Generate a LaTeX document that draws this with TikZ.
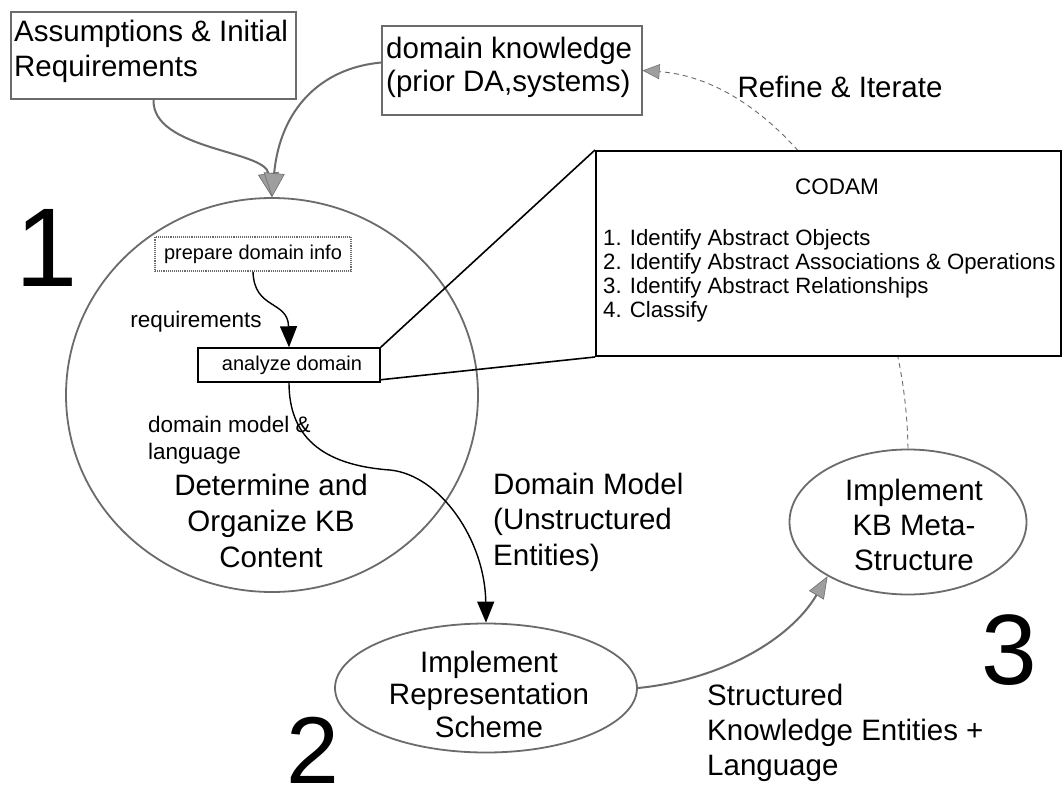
\documentclass[tikz,border=0pt]{standalone}
\usepackage{fontspec}
\setmainfont{Liberation Sans}
\usetikzlibrary{arrows.meta,shapes.geometric}
\definecolor{halftone}{rgb}{0.42,0.42,0.42}
\definecolor{headgray}{rgb}{0.62,0.62,0.62}
\tikzset{
  fs/.style 2 args={font=\fontsize{#1}{#2}\selectfont},
  oval/.style={ellipse, draw=halftone, line width=1.8pt, inner sep=0pt},
  graybox/.style={rectangle, draw=halftone, line width=1.2pt, inner sep=0pt},
  dotbox/.style={rectangle, draw=halftone, densely dotted, line width=1.1pt, inner sep=0pt},
  blackbox/.style={rectangle, draw=black, line width=1.5pt, inner sep=0pt},
  txt/.style={inner sep=0pt},
  grayarrow/.style={draw=halftone, line width=2pt, -{Triangle[length=24pt,width=21pt,fill=headgray,color=halftone,line width=0.6pt]}},
  grayarrowb/.style={draw=halftone, line width=2pt, -{Triangle[length=22pt,width=17pt,fill=headgray,color=halftone,line width=0.6pt]}},
  blackarrow/.style={draw=black, line width=1.4pt, -{Triangle[length=21pt,width=17pt]}},
  dashline/.style={draw=halftone, line width=0.9pt, dash pattern=on 5pt off 4pt, -{Triangle[length=17pt,width=15pt,fill=headgray,color=halftone,line width=0.5pt]}},
  codamline/.style={draw=black, line width=1.6pt}
}
\begin{document}
\begin{tikzpicture}[x=1pt,y=-1pt]
\useasboundingbox[fill=white] (0,0) rectangle (1063,792);

% big circle and ellipses
\node[oval, minimum width=412pt, minimum height=394pt] (c1) at (272,395) {};
\node[oval, minimum width=302pt, minimum height=129pt] (e2) at (486,688) {};
\node[oval, minimum width=237pt, minimum height=145pt] (e3) at (908,522) {};

% top boxes
\node[graybox, minimum width=285pt, minimum height=87pt] (ass) at (153.5,55.5) {};
\node[txt, fs={29.5}{35}, align=left, anchor=west] (asst) at (14,51) {Assumptions \& Initial\\Requirements};
\node[graybox, minimum width=260pt, minimum height=89pt] (dk) at (512,70.5) {};
\node[txt, fs={29.5}{33}, align=left, anchor=west] (dkt) at (386,67) {domain knowledge\\(prior DA,systems)};
\node[txt, fs={29.5}{34}] (refine) at (840,87) {Refine \& Iterate};

% big numbers
\node[txt, fs={112}{130}] (n1) at (47,248) {1};
\node[txt, fs={95}{115}] (n2) at (313,750) {2};
\node[txt, fs={100}{120}] (n3) at (1009,650) {3};

% inside circle
\node[dotbox, minimum width=196pt, minimum height=34pt, fs={20}{24}] (prep) at (253,254) {prepare domain info};
\node[blackbox, minimum width=182pt, minimum height=34pt, fs={20}{24}] (an) at (289,365) {\hspace*{6pt}analyze domain};
\node[txt, fs={22.5}{26}] (req) at (196,322) {requirements};
\node[txt, fs={22.5}{27}, align=left, anchor=west] (dml) at (148,440) {domain model \&\\language};
\node[txt, fs={29.5}{36}, align=center] (det) at (271,521) {Determine and\\Organize KB\\Content};

% ellipse texts
\node[txt, fs={29.5}{32.5}, align=center] (e2t) at (489,694) {Implement\\Representation\\Scheme};
\node[txt, fs={29.5}{35}, align=center] (e3t) at (914,525) {Implement\\KB Meta-\\Structure};

% edge labels
\node[txt, fs={29.5}{35.5}, align=left, anchor=west] (dmu) at (493,522) {Domain Model\\(Unstructured\\Entities)};
\node[txt, fs={29.5}{35}, align=left, anchor=west] (ske) at (707,733) {Structured\\Knowledge Entities +\\Language};

% refine & iterate dashed arrow (behind CODAM box)
\draw[dashline] (e3.north) .. controls (905,250) and (780,80) .. (dk.east);

% CODAM box
\node[rectangle, draw=black, line width=2pt, fill=white, minimum width=465pt, minimum height=205pt] (codam) at (828.5,253.5) {};
\node[txt, fs={22.5}{26}] (codamt) at (837,187) {CODAM};
\node[txt, fs={22.2}{24}, align=left, anchor=west] (codaml) at (603,276) {1. Identify Abstract Objects\\2. Identify Abstract Associations \& Operations\\3. Identify Abstract Relationships\\4. Classify};

\draw[codamline] (an.north east) -- (codam.north west);
\draw[codamline] ([yshift=3pt]an.south east) -- (codam.south west);

% connectors
\draw[grayarrow] (ass.south) .. controls (152,150) and (265,150) .. (c1.north);
\draw[grayarrow] ([yshift=8pt]dk.west) .. controls (320,68) and (280,110) .. (c1.north);
\draw[blackarrow] (prep.south) .. controls (254,310) and (288,300) .. (an.north);
\draw[blackarrow] (an.south) .. controls (289,435) and (320,465) .. (390,470) .. controls (440,475) and (485,540) .. (e2.north);
\draw[grayarrowb] (e2.east) .. controls (720,680) and (790,640) .. (e3.214);
\end{tikzpicture}
\end{document}
